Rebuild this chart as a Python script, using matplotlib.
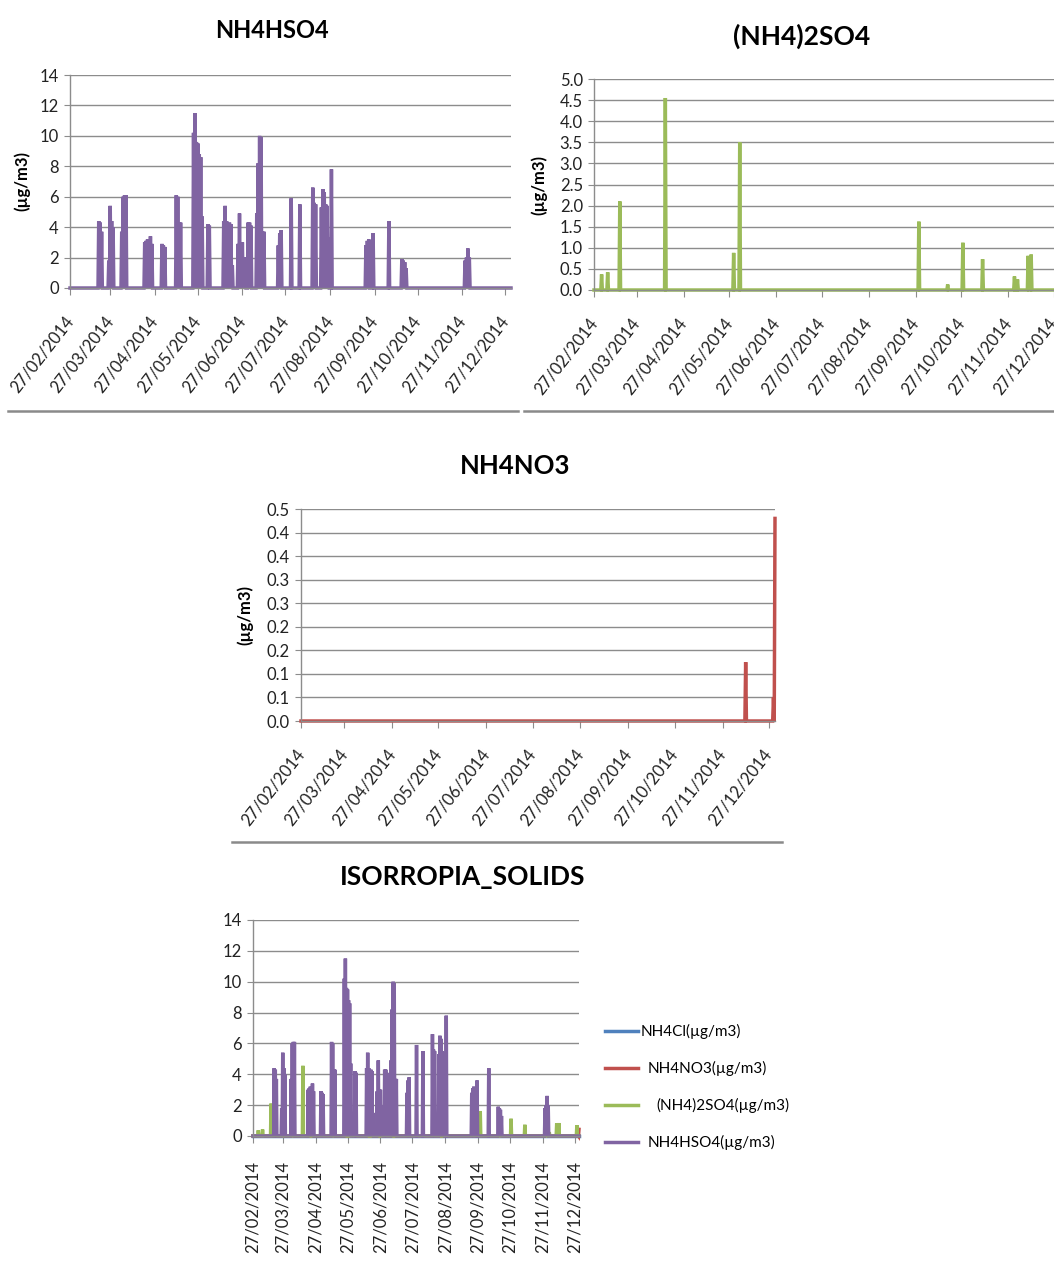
import pandas as pd
import matplotlib
matplotlib.use("Agg")
import matplotlib.pyplot as plt
from matplotlib.lines import Line2D

plt.rcParams['font.family'] = ['Lato', 'DejaVu Sans']

W, H = 1054, 1270
start = pd.Timestamp('2014-02-27')
end = pd.Timestamp('2014-12-31')

# readings given as days since 27/02/2014, all other readings are zero
hso4_day = [20, 21, 22, 27, 28, 29, 30, 36, 37, 38, 39,
            52, 53, 54, 55, 56, 57, 64, 65, 66, 74, 75, 76, 77,
            86, 87, 88, 89, 90, 91, 92, 96, 97,
            107, 108, 109, 110, 111, 112, 113, 117, 118, 119, 120, 121, 122,
            124, 125, 126, 130, 131, 132, 133, 134, 135, 145, 146, 147,
            154, 160, 169, 170, 171, 175, 176, 177, 178, 179, 180, 182,
            206, 207, 208, 211, 222, 231, 232, 233, 234, 275, 276, 277, 278]
hso4_val = [4.4, 4.3, 3.7, 1.8, 5.4, 4.4, 4.0, 3.7, 6.0, 6.1, 6.1,
            3.0, 3.1, 3.2, 1.1, 3.4, 2.9, 2.9, 2.8, 2.7, 6.1, 6.0, 4.3, 4.3,
            10.2, 11.5, 9.6, 9.5, 8.8, 8.6, 4.7, 4.2, 4.1,
            4.4, 5.4, 4.4, 2.7, 4.3, 4.2, 1.5, 2.9, 4.9, 3.0, 3.0, 2.0, 2.0,
            4.3, 4.3, 4.1, 4.9, 8.2, 10.0, 9.9, 3.7, 3.7, 2.8, 3.6, 3.8,
            5.9, 5.5, 6.6, 5.6, 5.5, 5.3, 6.5, 6.3, 5.5, 5.4, 3.3, 7.8,
            2.8, 3.1, 3.2, 3.6, 4.4, 1.9, 1.8, 1.7, 1.3, 1.8, 2.0, 2.6, 2.0]

so4_day = [5, 9, 17, 47, 92, 96, 214, 233, 243, 256, 277, 279, 286, 288, 305]
so4_val = [0.37, 0.42, 2.1, 4.55, 0.88, 3.5, 1.62, 0.13, 1.12, 0.73,
           0.32, 0.25, 0.81, 0.84, 0.7]

no3_day = [288, 306, 307]
no3_val = [0.125, 0.05, 0.43]

# NH4Cl is zero over the whole period
cl_day = []
cl_val = []

tick_dates = pd.date_range(start, periods=11, freq=pd.DateOffset(months=1))
tick_labels = [d.strftime('%d/%m/%Y') for d in tick_dates]

no3_ticks = [0, 0.05, 0.1, 0.15, 0.2, 0.25, 0.3, 0.35, 0.4, 0.45]
no3_tick_labels = ['0.0', '0.1', '0.1', '0.2', '0.2', '0.3', '0.3', '0.4', '0.4', '0.5']

PURPLE = '#8064A2'
GREEN = '#9BBB59'
RED = '#C0504D'
BLUE = '#4F81BD'
GRID = '#8c8c8c'

grid_times = pd.date_range(start, end, freq='12h')


def build(days, vals):
    s = pd.Series(0.0, index=grid_times)
    if days:
        s.loc[start + pd.to_timedelta(days, unit='D')] = vals
    return s


def add_axes(fig, l, t, r, b):
    return fig.add_axes([l / W, 1 - b / H, (r - l) / W, (b - t) / H])


def style(ax, ylim, yticks, ylabels=None, rot=52):
    ax.set_xlim(start, end)
    ax.set_ylim(*ylim)
    ax.set_yticks(yticks)
    if ylabels is not None:
        ax.set_yticklabels(ylabels)
    ax.set_xticks(tick_dates)
    ax.yaxis.grid(True, color=GRID, lw=1)
    ax.set_axisbelow(True)
    for side in ('top', 'right'):
        ax.spines[side].set_visible(False)
    for side in ('left', 'bottom'):
        ax.spines[side].set_color(GRID)
        ax.spines[side].set_linewidth(1)
    ax.tick_params(axis='y', length=4, color=GRID, labelsize=12, pad=4,
                   labelcolor='#222222')
    ax.tick_params(axis='x', length=5, color=GRID, labelsize=12,
                   labelcolor='#222222')
    if rot == 90:
        ax.set_xticklabels(tick_labels, rotation=90, ha='center', va='top')
    else:
        ax.set_xticklabels(tick_labels, rotation=rot, ha='right', va='center',
                           rotation_mode='anchor')
        ax.tick_params(axis='x', pad=17)


def draw(ax, days, vals, color):
    s = build(days, vals)
    ax.plot(s.index, s.values, color=color, lw=2.5, clip_on=False,
            solid_joinstyle='miter')


def title(x, y, text, size):
    fig.text(x / W, 1 - y / H, text, ha='center', va='center',
             fontsize=size, fontweight='bold')


def unit_label(x, y):
    fig.text(x / W, 1 - y / H, '(µg/m3)', ha='center', va='center',
             rotation=90, fontsize=12, fontweight='bold')


fig = plt.figure(figsize=(W / 100, H / 100), dpi=100)

# NH4HSO4
ax1 = add_axes(fig, 70, 75, 511, 288)
draw(ax1, hso4_day, hso4_val, PURPLE)
style(ax1, (0, 14), range(0, 15, 2))
title(272, 30, 'NH4HSO4', 17)
unit_label(22, 181)

# (NH4)2SO4
ax2 = add_axes(fig, 594, 79, 1060, 290)
draw(ax2, so4_day, so4_val, GREEN)
style(ax2, (0, 5), [i * 0.5 for i in range(11)],
      ['%.1f' % (i * 0.5) for i in range(11)])
title(802, 36, '(NH4)2SO4', 19)
unit_label(539, 185)

# NH4NO3
ax3 = add_axes(fig, 301, 509, 775, 721)
draw(ax3, no3_day, no3_val, RED)
style(ax3, (0, 0.45), no3_ticks, no3_tick_labels)
title(515, 466, 'NH4NO3', 18.5)
unit_label(245, 615)

# all solids together
ax4 = add_axes(fig, 253, 920, 579, 1136)
draw(ax4, cl_day, cl_val, BLUE)
draw(ax4, no3_day, no3_val, RED)
draw(ax4, so4_day, so4_val, GREEN)
draw(ax4, hso4_day, hso4_val, PURPLE)
style(ax4, (0, 14), range(0, 15, 2), rot=90)
ax4.tick_params(axis='x', pad=13)
title(463, 877, 'ISORROPIA_SOLIDS', 19)

legend_items = [('NH4Cl(µg/m3)', BLUE, 641, 1031),
                ('NH4NO3(µg/m3)', RED, 648, 1068),
                ('(NH4)2SO4(µg/m3)', GREEN, 656, 1105),
                ('NH4HSO4(µg/m3)', PURPLE, 648, 1142)]
for label, color, tx, ty in legend_items:
    fig.add_artist(Line2D([605 / W, 638 / W], [1 - ty / H, 1 - ty / H],
                          color=color, lw=2.5))
    fig.text(tx / W, 1 - ty / H, label, ha='left', va='center', fontsize=11)

# chart area borders
for x0, x1, y in [(8, 518, 411), (524, 1054, 411), (232, 782, 842)]:
    fig.add_artist(Line2D([x0 / W, x1 / W], [1 - y / H, 1 - y / H],
                          color='#8a8a8a', lw=1.8))

fig.savefig('out.png', dpi=100)
